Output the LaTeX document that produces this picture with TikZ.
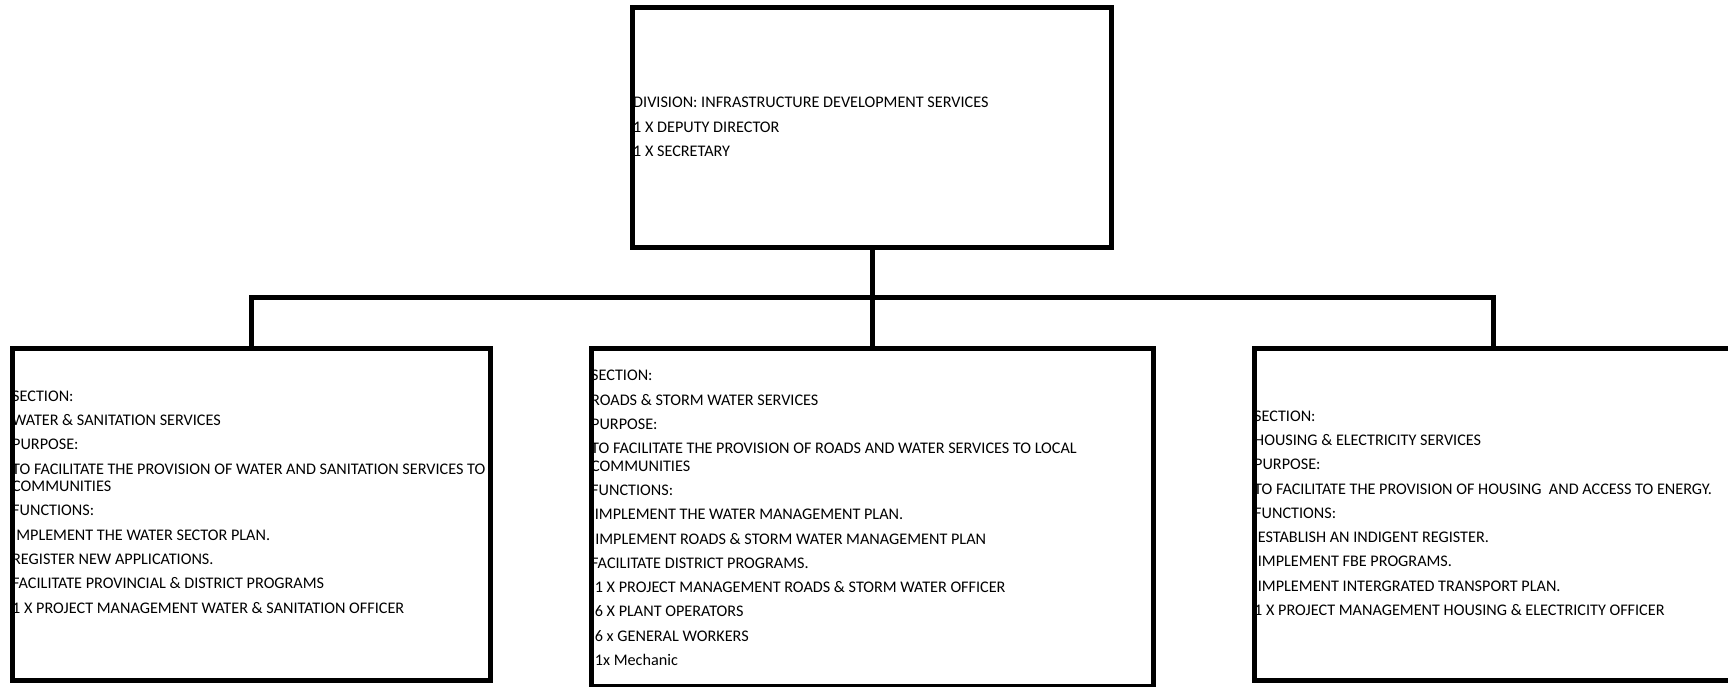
\documentclass[tikz,border=0pt]{standalone}
\usepackage{fontspec}
\setmainfont{Carlito}

\tikzset{
	unitbox/.style={draw, line width=5pt, inner sep=0pt, outer sep=0pt},
	boxtext/.style={anchor=base west, align=left, inner sep=0pt, font=\fontsize{16.2}{17.5}\selectfont},
	link/.style={line width=5pt}
}
\newcommand{\secbreak}{\\[6.8pt]}

\begin{document}
\begin{tikzpicture}[x=1pt,y=-1pt]
		\useasboundingbox (0,0) rectangle (1728,687);
		%Division box
			\node[unitbox, minimum width=479pt, minimum height=239.5pt] (division) at (872,127.25) {};
			\node[boxtext] (divisiontxt) at (633,156.5) {DIVISION: INFRASTRUCTURE DEVELOPMENT SERVICES\secbreak
				1 X DEPUTY DIRECTOR\secbreak
				1 X SECRETARY};
		%Section boxes
			\node[unitbox, minimum width=478pt, minimum height=332.5pt] (water) at (251,514.25) {};
			\node[unitbox, minimum width=562pt, minimum height=338pt] (roads) at (872,517) {};
			\node[unitbox, minimum width=478pt, minimum height=332pt] (housing) at (1493,514) {};
		%Connectors
			\coordinate (bus) at (872,297);
			\draw[link] (division.south) -- (roads.north);
			\draw[link] (water.north) |- (bus) -| (housing.north);
		%Water & sanitation
			\node[boxtext] (watertxt) at (12,613) {SECTION:\secbreak
				WATER \& SANITATION SERVICES\secbreak
				PURPOSE:\secbreak
				TO FACILITATE THE PROVISION OF WATER AND SANITATION SERVICES TO\\
				COMMUNITIES\secbreak
				FUNCTIONS:\secbreak
				IMPLEMENT THE WATER SECTOR PLAN.\secbreak
				REGISTER NEW APPLICATIONS.\secbreak
				FACILITATE PROVINCIAL \& DISTRICT PROGRAMS\secbreak
				1 X PROJECT MANAGEMENT WATER \& SANITATION OFFICER};
		%Roads & storm water
			\node[boxtext] (roadstxt) at (591,665.5) {SECTION:\secbreak
				ROADS \& STORM WATER SERVICES\secbreak
				PURPOSE:\secbreak
				TO FACILITATE THE PROVISION OF ROADS AND WATER SERVICES TO LOCAL\\
				COMMUNITIES\secbreak
				FUNCTIONS:\secbreak
				\ IMPLEMENT THE WATER MANAGEMENT PLAN.\secbreak
				IIMPLEMENT ROADS \& STORM WATER MANAGEMENT PLAN\secbreak
				FACILITATE DISTRICT PROGRAMS.\secbreak
				\ 1 X PROJECT MANAGEMENT ROADS \& STORM WATER OFFICER\secbreak
				\ 6 X PLANT OPERATORS\secbreak
				\ 6 x GENERAL WORKERS\secbreak
				\ 1x Mechanic};
		%Housing & electricity
			\node[boxtext] (housingtxt) at (1254,615.5) {SECTION:\secbreak
				HOUSING \& ELECTRICITY SERVICES\secbreak
				PURPOSE:\secbreak
				TO FACILITATE THE PROVISION OF HOUSING\ \ AND ACCESS TO ENERGY.\secbreak
				FUNCTIONS:\secbreak
				\ ESTABLISH AN INDIGENT REGISTER.\secbreak
				\ IMPLEMENT FBE PROGRAMS.\secbreak
				\ IMPLEMENT INTERGRATED TRANSPORT PLAN.\secbreak
				1 X PROJECT MANAGEMENT HOUSING \& ELECTRICITY OFFICER};
	\end{tikzpicture}
\end{document}
